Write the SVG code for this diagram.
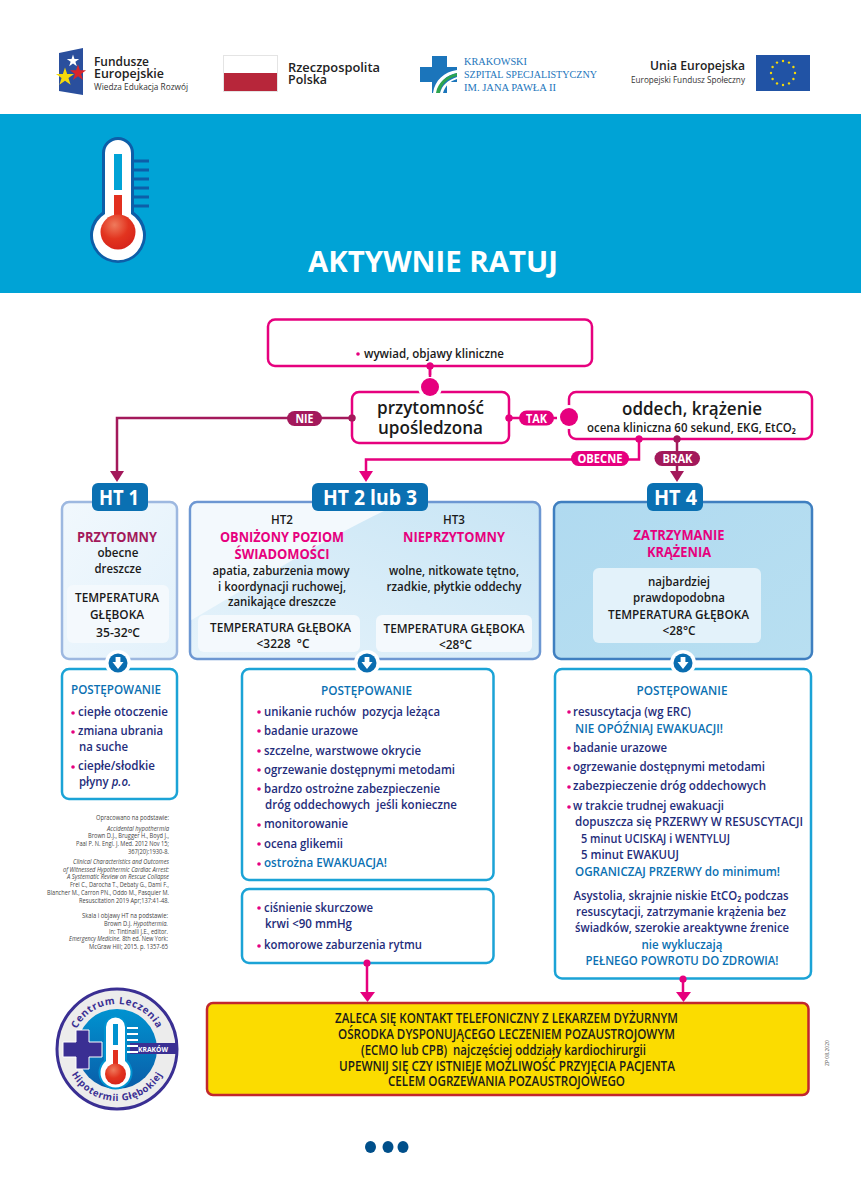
<svg xmlns="http://www.w3.org/2000/svg" width="861" height="1200" viewBox="0 0 861 1200">
<style>
text{font-family:"Open Sans","Liberation Sans",sans-serif}
.c{text-anchor:middle}
.r{text-anchor:end}
.pk{fill:none;stroke:#e6007e;stroke-width:2.5}
.cy{fill:#fff;stroke:#1ba3d6;stroke-width:2.5}
.k{fill:#1a1a1a;font-weight:600;font-size:12px}
.big{fill:#1a1a1a;font-weight:600;font-size:18px}
.cap{fill:#fff;font-weight:700;font-size:12px}
.ht{fill:#fff;font-weight:700;font-size:22px}
.htb{fill:#0a70b2}
.pkh{fill:#e6007e;font-weight:700;font-size:14px}
.mar{fill:#a3195b;font-weight:700;font-size:14px}
.post{fill:#0a70b2;font-weight:600;font-size:13px}
.it{fill:#1f2d7b;font-weight:600;font-size:13px}
.bl{fill:#0a70b2;font-weight:600;font-size:13px}
.dot{fill:#e6007e}
.halo{fill:#fff}
.ref{fill:#444;font-size:6.5px}
.y{fill:#1a1a1a;font-weight:600;font-size:13.5px}
.panel{fill:#f4f9fd}
.ln{fill:none;stroke:#e6007e;stroke-width:2.5}
.lm{fill:none;stroke:#a3195b;stroke-width:2.5}
.pm{fill:#a3195b}
.pp{fill:#e6007e}
.lg{font-weight:600;fill:#222;font-size:12.5px}
.lgs{fill:#333;font-size:9px}
.ksz{fill:#1b75bb;font-size:10.5px;font-family:"Liberation Serif",serif}
</style>
<defs>
<polygon id="star" points="0,-1 .225,-.309 .951,-.309 .363,.118 .588,.809 0,.382 -.588,.809 -.363,.118 -.951,-.309 -.225,-.309"/>
<linearGradient id="g1" x1="0" y1="0" x2="1" y2="1"><stop offset="0" stop-color="#f1f8fd"/><stop offset="1" stop-color="#e2f1fb"/></linearGradient>
<linearGradient id="g2" x1="0" y1="1" x2="1" y2="0"><stop offset="0" stop-color="#e6f3fb"/><stop offset="1" stop-color="#c8e5f5"/></linearGradient>
<linearGradient id="g3" x1="0" y1="0" x2="1" y2="1"><stop offset="0" stop-color="#b0daf0"/><stop offset="1" stop-color="#b8dff1"/></linearGradient>
<radialGradient id="ball" cx=".4" cy=".3" r=".8"><stop offset="0" stop-color="#ef7a5c"/><stop offset=".5" stop-color="#e2341f"/><stop offset="1" stop-color="#d4201a"/></radialGradient>
<linearGradient id="disc" x1="0" y1="0" x2="0" y2="1"><stop offset="0" stop-color="#0093d0"/><stop offset="1" stop-color="#0a5da8"/></linearGradient>
<g id="down"><circle r="13" fill="#fff"/><circle r="9.5" fill="#0a6db0"/><path d="M-2.4,-6H2.4V-1H5.5L0,6L-5.5,-1H-2.4Z" fill="#fff"/></g>
<path id="arcTop" d="M 72 1049 A 45 45 0 0 1 162 1049"/>
<path id="arcBot" d="M 65 1049 A 52 52 0 0 0 169 1049"/>
</defs>

<rect width="861" height="1200" fill="#fff"/>

<g id="logos">
<g id="logo-fe">
<polygon points="59,53 83,48 83,95 59,91" fill="#2a4f9d"/>
<use href="#star" transform="translate(73,61) scale(6.500)" fill="#fff"/>
<use href="#star" transform="translate(65,77) scale(9.500)" fill="#f5d90a"/>
<use href="#star" transform="translate(78,73) scale(8.500)" fill="#d9252a"/>
<text class="lg" x="94" y="65.500" textLength="55" lengthAdjust="spacingAndGlyphs">Fundusze</text>
<text class="lg" x="94" y="77.500" textLength="70" lengthAdjust="spacingAndGlyphs">Europejskie</text>
<text class="lgs" x="94" y="90" textLength="94" lengthAdjust="spacingAndGlyphs">Wiedza Edukacja Rozwój</text>
</g>
<g id="logo-pl">
<rect x="223.500" y="55.500" width="54" height="36" fill="#fff" stroke="#e4e4e4"/>
<rect x="224" y="73" width="53" height="18" fill="#b7263a"/>
<text class="lg" x="288" y="72" textLength="92" lengthAdjust="spacingAndGlyphs">Rzeczpospolita</text>
<text class="lg" x="288" y="84" textLength="39" lengthAdjust="spacingAndGlyphs">Polska</text>
</g>
<g id="logo-ksz">
<path d="M432,56H447V67H457V82H447V93H432V82H420V67H432Z" fill="#1b75bb"/>
<path d="M433,93C435,80 444,72 457,70V73C446,75 439,82 437,93Z" fill="#fff"/>
<path d="M436,93C438,82 446,76 457,73V76C448,78 441,84 440,93Z" fill="#2ea44f"/>
<path d="M440,93C442,85 448,80 457,77V79C450,81 445,86 443,93Z" fill="#fff"/>
<text class="ksz" x="464" y="65" textLength="63" lengthAdjust="spacingAndGlyphs">KRAKOWSKI</text>
<text class="ksz" x="464" y="78" textLength="133" lengthAdjust="spacingAndGlyphs">SZPITAL SPECJALISTYCZNY</text>
<text class="ksz" x="464" y="91" textLength="92" lengthAdjust="spacingAndGlyphs">IM. JANA PAWŁA II</text>
</g>
<g id="logo-ue">
<text class="lg r" x="745" y="70" textLength="95" lengthAdjust="spacingAndGlyphs">Unia Europejska</text>
<text class="lgs r" x="745" y="83" textLength="114" lengthAdjust="spacingAndGlyphs">Europejski Fundusz Społeczny</text>
<rect x="756" y="55" width="54" height="36" fill="#2153a5"/>
<g fill="#f5d90a">
<circle cx="783" cy="61" r="1.200"/><circle cx="789" cy="62.600" r="1.200"/><circle cx="793.400" cy="67" r="1.200"/><circle cx="795" cy="73" r="1.200"/><circle cx="793.400" cy="79" r="1.200"/><circle cx="789" cy="83.400" r="1.200"/><circle cx="783" cy="85" r="1.200"/><circle cx="777" cy="83.400" r="1.200"/><circle cx="772.600" cy="79" r="1.200"/><circle cx="771" cy="73" r="1.200"/><circle cx="772.600" cy="67" r="1.200"/><circle cx="777" cy="62.600" r="1.200"/>
</g>
</g>
</g>

<g id="banner">
<rect y="114" width="861" height="179" fill="#00a3d6"/>
<g id="thermometer">
<g fill="#0d5ea8"><rect x="134" y="159.500" width="15" height="3"/><rect x="134" y="168.500" width="15" height="3"/><rect x="134" y="177.500" width="15" height="3"/><rect x="134" y="186.500" width="15" height="3"/><rect x="134" y="195.500" width="15" height="3"/><rect x="134" y="204.500" width="15" height="3"/></g>
<path d="M102,153A16,16 0 0 1 134,153V212A28,28 0 1 1 102,212Z" fill="#0d5ea8"/>
<path d="M105,153A13,13 0 0 1 131,153V214A25,25 0 1 1 105,214Z" fill="#fff"/>
<rect x="114" y="154" width="8" height="36" fill="#00a3d6"/>
<rect x="114" y="195" width="8" height="30" fill="#e2301f"/>
<circle cx="118" cy="232" r="17.500" fill="url(#ball)"/>
</g>
<text class="c" x="433" y="272" font-size="29" font-weight="700" fill="#fff" textLength="250" lengthAdjust="spacingAndGlyphs">AKTYWNIE RATUJ</text>
</g>

<g id="connectors">
<path class="ln" d="M430,366V380"/>
<circle class="dot" cx="430" cy="366" r="3.500"/>
<path class="lm" d="M352,418H117V473"/>
<polygon class="pm" points="110,471 124,471 117,482"/>
<circle class="pm" cx="352" cy="418" r="3.500"/>
<path class="ln" d="M509,418H557"/>
<circle class="dot" cx="509" cy="418" r="3.500"/>
<path class="ln" d="M639,439V459.500H366V473"/>
<polygon class="pp" points="359,471 373,471 366,482"/>
<circle class="dot" cx="639" cy="439" r="3.500"/>
<path class="lm" d="M677,439V473"/>
<polygon class="pm" points="670,471 684,471 677,482"/>
<circle class="pm" cx="677" cy="439" r="3.500"/>
<path class="ln" d="M367,963V994"/>
<polygon class="pp" points="360,992 375,992 367.500,1002"/>
<circle class="dot" cx="367" cy="963" r="3.500"/>
<path class="ln" d="M683,979V994"/>
<polygon class="pp" points="676,992 691,992 683.500,1002"/>
<circle class="dot" cx="683" cy="979" r="3.500"/>
</g>

<g id="n-wywiad">
<rect class="pk" x="268" y="319.500" width="324" height="46.500" rx="7"/>
<circle class="dot" cx="430" cy="366" r="3.500"/>
<circle class="dot" cx="358" cy="354" r="1.800"/>
<text class="k" x="364" y="358" textLength="140" lengthAdjust="spacingAndGlyphs">wywiad, objawy kliniczne</text>
</g>
<g id="n-przytomnosc">
<rect class="pk" x="352" y="392" width="157" height="51" rx="7"/>
<circle class="halo" cx="430" cy="387" r="12"/>
<circle class="dot" cx="430" cy="387" r="9"/>
<path class="ln" d="M430,366V377"/>
<circle class="pm" cx="352" cy="418" r="3.500"/>
<circle class="dot" cx="509" cy="418" r="3.500"/>
<text class="big c" x="430.500" y="414" textLength="107" lengthAdjust="spacingAndGlyphs">przytomność</text>
<text class="big c" x="430.500" y="434" textLength="105" lengthAdjust="spacingAndGlyphs">upośledzona</text>
</g>
<g id="n-oddech">
<rect class="pk" x="569" y="392" width="243" height="47" rx="7"/>
<circle class="halo" cx="569" cy="417" r="12"/>
<circle class="dot" cx="569" cy="417" r="9"/>
<circle class="dot" cx="639" cy="439" r="3.500"/>
<circle class="pm" cx="677" cy="439" r="3.500"/>
<text class="big c" x="692" y="415" textLength="140" lengthAdjust="spacingAndGlyphs">oddech, krążenie</text>
<text class="k" x="587" y="431.500" textLength="209" lengthAdjust="spacingAndGlyphs">ocena kliniczna 60 sekund, EKG, EtCO₂</text>
</g>
<g id="l-nie"><rect class="pm" x="287" y="411" width="35" height="15" rx="7.500"/><text class="cap c" x="304.500" y="423" textLength="18" lengthAdjust="spacingAndGlyphs">NIE</text></g>
<g id="l-tak"><rect class="pp" x="519" y="410.500" width="35" height="15" rx="7.500"/><text class="cap c" x="536.500" y="422.500" textLength="21" lengthAdjust="spacingAndGlyphs">TAK</text></g>
<g id="l-obecne"><rect class="pp" x="571" y="451" width="58" height="15" rx="7.500"/><text class="cap c" x="600" y="463" textLength="45" lengthAdjust="spacingAndGlyphs">OBECNE</text></g>
<g id="l-brak"><rect class="pm" x="654.500" y="451" width="45.500" height="15" rx="7.500"/><text class="cap c" x="677.500" y="463" textLength="30" lengthAdjust="spacingAndGlyphs">BRAK</text></g>

<g id="n-ht1">
<rect x="62" y="502" width="115" height="157" rx="7" fill="url(#g1)" stroke="#9db8e0" stroke-width="2.500"/>
<rect class="htb" x="92" y="483" width="56" height="28" rx="6"/>
<text class="ht c" x="119" y="505" textLength="40" lengthAdjust="spacingAndGlyphs">HT 1</text>
<text class="mar c" x="117" y="542" textLength="80" lengthAdjust="spacingAndGlyphs">PRZYTOMNY</text>
<text class="k c" x="118" y="557" textLength="41" lengthAdjust="spacingAndGlyphs">obecne</text>
<text class="k c" x="118" y="573" textLength="47" lengthAdjust="spacingAndGlyphs">dreszcze</text>
<rect class="panel" x="67" y="585" width="102" height="58" rx="6"/>
<text class="k c" x="117" y="602" textLength="84" lengthAdjust="spacingAndGlyphs">TEMPERATURA</text>
<text class="k c" x="117" y="619" textLength="54" lengthAdjust="spacingAndGlyphs">GŁĘBOKA</text>
<text class="k c" x="118" y="637" textLength="44" lengthAdjust="spacingAndGlyphs">35-32ºC</text>
</g>
<g id="n-ht23">
<rect x="190" y="502" width="350" height="157" rx="7" fill="url(#g2)" stroke="#6d97d2" stroke-width="2.500"/>
<path d="M191.500,620C260,580 330,535 400,503.500H197A6,6 0 0 0 191.500,509Z" fill="#f3f9fd"/>
<rect class="htb" x="312" y="483" width="116" height="28" rx="6"/>
<text class="ht c" x="370" y="505" textLength="94" lengthAdjust="spacingAndGlyphs">HT 2 lub 3</text>
<text class="k c" x="282" y="524" textLength="22" lengthAdjust="spacingAndGlyphs">HT2</text>
<text class="pkh c" x="282" y="542" textLength="124" lengthAdjust="spacingAndGlyphs">OBNIŻONY POZIOM</text>
<text class="pkh c" x="282" y="559" textLength="95" lengthAdjust="spacingAndGlyphs">ŚWIADOMOŚCI</text>
<text class="k c" x="281" y="575" textLength="137" lengthAdjust="spacingAndGlyphs">apatia, zaburzenia mowy</text>
<text class="k c" x="282" y="591" textLength="128" lengthAdjust="spacingAndGlyphs">i koordynacji ruchowej,</text>
<text class="k c" x="282" y="606" textLength="108" lengthAdjust="spacingAndGlyphs">zanikające dreszcze</text>
<rect class="panel" x="198" y="615" width="162" height="37" rx="6"/>
<text class="k c" x="280.500" y="632" textLength="141" lengthAdjust="spacingAndGlyphs">TEMPERATURA GŁĘBOKA</text>
<text class="k c" x="283" y="648" textLength="53" lengthAdjust="spacingAndGlyphs" xml:space="preserve">&lt;3228  °C</text>
<text class="k c" x="454" y="524" textLength="22" lengthAdjust="spacingAndGlyphs">HT3</text>
<text class="pkh c" x="454" y="542" textLength="102" lengthAdjust="spacingAndGlyphs">NIEPRZYTOMNY</text>
<text class="k c" x="454" y="575" textLength="130" lengthAdjust="spacingAndGlyphs">wolne, nitkowate tętno,</text>
<text class="k c" x="454" y="591" textLength="135" lengthAdjust="spacingAndGlyphs">rzadkie, płytkie oddechy</text>
<rect class="panel" x="376" y="615" width="156" height="37" rx="6"/>
<text class="k c" x="454" y="633" textLength="141" lengthAdjust="spacingAndGlyphs">TEMPERATURA GŁĘBOKA</text>
<text class="k c" x="455.500" y="649" textLength="33" lengthAdjust="spacingAndGlyphs">&lt;28°C</text>
</g>
<g id="n-ht4">
<rect x="554" y="502" width="258" height="157" rx="7" fill="url(#g3)" stroke="#3f7fc0" stroke-width="2.500"/>
<rect class="htb" x="647" y="483" width="56" height="28" rx="6"/>
<text class="ht c" x="675.500" y="505" textLength="43" lengthAdjust="spacingAndGlyphs">HT 4</text>
<text class="pkh c" x="679" y="540" textLength="91" lengthAdjust="spacingAndGlyphs">ZATRZYMANIE</text>
<text class="pkh c" x="679" y="557" textLength="64" lengthAdjust="spacingAndGlyphs">KRĄŻENIA</text>
<rect x="593" y="568" width="168" height="75" rx="6" fill="#e3f2fa"/>
<text class="k c" x="679" y="586" textLength="62" lengthAdjust="spacingAndGlyphs">najbardziej</text>
<text class="k c" x="679" y="602" textLength="92" lengthAdjust="spacingAndGlyphs">prawdopodobna</text>
<text class="k c" x="678.500" y="619" textLength="141" lengthAdjust="spacingAndGlyphs">TEMPERATURA GŁĘBOKA</text>
<text class="k c" x="679" y="635" textLength="33" lengthAdjust="spacingAndGlyphs">&lt;28°C</text>
</g>

<g id="n-post1">
<rect class="cy" x="62" y="669" width="115" height="130" rx="7"/>
<text class="post" x="71" y="694" textLength="90" lengthAdjust="spacingAndGlyphs">POSTĘPOWANIE</text>
<circle class="dot" cx="73" cy="713" r="1.800"/><text class="it" x="78" y="716" textLength="90" lengthAdjust="spacingAndGlyphs">ciepłe otoczenie</text>
<circle class="dot" cx="73" cy="732" r="1.800"/><text class="it" x="78" y="735" textLength="85" lengthAdjust="spacingAndGlyphs">zmiana ubrania</text>
<text class="it" x="79" y="751" textLength="49" lengthAdjust="spacingAndGlyphs">na suche</text>
<circle class="dot" cx="73" cy="767" r="1.800"/><text class="it" x="78" y="770" textLength="77" lengthAdjust="spacingAndGlyphs">ciepłe/słodkie</text>
<text class="it" x="79" y="786" textLength="52" lengthAdjust="spacingAndGlyphs">płyny <tspan font-style="italic">p.o.</tspan></text>
</g>
<g id="n-post2">
<rect class="cy" x="242" y="669" width="251.500" height="211" rx="7"/>
<text class="post c" x="366.500" y="695" textLength="91" lengthAdjust="spacingAndGlyphs">POSTĘPOWANIE</text>
<circle class="dot" cx="259" cy="712" r="1.800"/><text class="it" x="264" y="716" textLength="176" lengthAdjust="spacingAndGlyphs" xml:space="preserve">unikanie ruchów  pozycja leżąca</text>
<circle class="dot" cx="259" cy="731" r="1.800"/><text class="it" x="264" y="735" textLength="94" lengthAdjust="spacingAndGlyphs">badanie urazowe</text>
<circle class="dot" cx="259" cy="751" r="1.800"/><text class="it" x="264" y="755" textLength="157" lengthAdjust="spacingAndGlyphs">szczelne, warstwowe okrycie</text>
<circle class="dot" cx="259" cy="770" r="1.800"/><text class="it" x="264" y="774" textLength="191" lengthAdjust="spacingAndGlyphs">ogrzewanie dostępnymi metodami</text>
<circle class="dot" cx="259" cy="789" r="1.800"/><text class="it" x="264" y="793" textLength="176" lengthAdjust="spacingAndGlyphs">bardzo ostrożne zabezpieczenie</text>
<text class="it" x="265" y="809" textLength="192" lengthAdjust="spacingAndGlyphs" xml:space="preserve">dróg oddechowych  jeśli konieczne</text>
<circle class="dot" cx="259" cy="825" r="1.800"/><text class="it" x="264" y="828" textLength="84" lengthAdjust="spacingAndGlyphs">monitorowanie</text>
<circle class="dot" cx="259" cy="844" r="1.800"/><text class="it" x="264" y="848" textLength="79" lengthAdjust="spacingAndGlyphs">ocena glikemii</text>
<circle class="dot" cx="259" cy="864" r="1.800"/><text class="bl" x="264" y="867" textLength="123" lengthAdjust="spacingAndGlyphs">ostrożna EWAKUACJA!</text>
</g>
<g id="n-kryteria">
<rect class="cy" x="242" y="889" width="251.500" height="74" rx="7"/>
<circle class="dot" cx="367" cy="963" r="3.500"/>
<circle class="dot" cx="259" cy="908" r="1.800"/><text class="it" x="264" y="912" textLength="109" lengthAdjust="spacingAndGlyphs">ciśnienie skurczowe</text>
<text class="it" x="265" y="928" textLength="87" lengthAdjust="spacingAndGlyphs">krwi &lt;90 mmHg</text>
<circle class="dot" cx="259" cy="946" r="1.800"/><text class="it" x="264" y="949" textLength="158" lengthAdjust="spacingAndGlyphs">komorowe zaburzenia rytmu</text>
</g>
<g id="n-post4">
<rect class="cy" x="555" y="669" width="256" height="309.500" rx="7"/>
<circle class="dot" cx="683" cy="979" r="3.500"/>
<text class="post c" x="682" y="695" textLength="91" lengthAdjust="spacingAndGlyphs">POSTĘPOWANIE</text>
<circle class="dot" cx="569" cy="712" r="1.800"/><text class="it" x="573" y="716" textLength="118" lengthAdjust="spacingAndGlyphs">resuscytacja (wg ERC)</text>
<text class="bl" x="575" y="733" textLength="148" lengthAdjust="spacingAndGlyphs">NIE OPÓŹNIAJ EWAKUACJI!</text>
<circle class="dot" cx="569" cy="748" r="1.800"/><text class="it" x="573" y="752" textLength="94" lengthAdjust="spacingAndGlyphs">badanie urazowe</text>
<circle class="dot" cx="569" cy="768" r="1.800"/><text class="it" x="573" y="771" textLength="192" lengthAdjust="spacingAndGlyphs">ogrzewanie dostępnymi metodami</text>
<circle class="dot" cx="569" cy="787" r="1.800"/><text class="it" x="573" y="790" textLength="193" lengthAdjust="spacingAndGlyphs">zabezpieczenie dróg oddechowych</text>
<circle class="dot" cx="569" cy="807" r="1.800"/><text class="it" x="573" y="810" textLength="151" lengthAdjust="spacingAndGlyphs">w trakcie trudnej ewakuacji</text>
<text class="it" x="575" y="826" textLength="228" lengthAdjust="spacingAndGlyphs">dopuszcza się PRZERWY W RESUSCYTACJI</text>
<text class="it" x="581" y="843" textLength="149" lengthAdjust="spacingAndGlyphs">5 minut UCISKAJ i WENTYLUJ</text>
<text class="it" x="581" y="859" textLength="98" lengthAdjust="spacingAndGlyphs">5 minut EWAKUUJ</text>
<text class="bl" x="575" y="876" textLength="205" lengthAdjust="spacingAndGlyphs">OGRANICZAJ PRZERWY do minimum!</text>
<text class="it c" x="681" y="900" textLength="215" lengthAdjust="spacingAndGlyphs">Asystolia, skrajnie niskie EtCO₂ podczas</text>
<text class="it c" x="681" y="916" textLength="210" lengthAdjust="spacingAndGlyphs">resuscytacji, zatrzymanie krążenia bez</text>
<text class="it c" x="682" y="932" textLength="214" lengthAdjust="spacingAndGlyphs">świadków, szerokie areaktywne źrenice</text>
<text class="bl c" x="682" y="949" textLength="81" lengthAdjust="spacingAndGlyphs">nie wykluczają</text>
<text class="bl c" x="682" y="965" textLength="193" lengthAdjust="spacingAndGlyphs">PEŁNEGO POWROTU DO ZDROWIA!</text>
</g>

<g id="arrows-down">
<use href="#down" x="118" y="663"/>
<use href="#down" x="367" y="663"/>
<use href="#down" x="683" y="663"/>
</g>

<g id="n-ecmo">
<rect x="207" y="1003" width="601.500" height="92" rx="6" fill="#fbdc00" stroke="#c1272d" stroke-width="2.500"/>
<text class="y c" x="506.500" y="1023" textLength="343" lengthAdjust="spacingAndGlyphs">ZALECA SIĘ KONTAKT TELEFONICZNY Z LEKARZEM DYŻURNYM</text>
<text class="y c" x="506.500" y="1039" textLength="337" lengthAdjust="spacingAndGlyphs">OŚRODKA DYSPONUJĄCEGO LECZENIEM POZAUSTROJOWYM</text>
<text class="y c" x="503.500" y="1055" textLength="285" lengthAdjust="spacingAndGlyphs" xml:space="preserve">(ECMO lub CPB)  najczęściej oddziały kardiochirurgii</text>
<text class="y c" x="507" y="1071" textLength="336" lengthAdjust="spacingAndGlyphs">UPEWNIJ SIĘ CZY ISTNIEJE MOŻLIWOŚĆ PRZYJĘCIA PACJENTA</text>
<text class="y c" x="506.500" y="1086" textLength="237" lengthAdjust="spacingAndGlyphs">CELEM OGRZEWANIA POZAUSTROJOWEGO</text>
</g>

<g id="refs">
<text class="ref r" x="169" y="820" textLength="73" lengthAdjust="spacingAndGlyphs">Opracowano na podstawie:</text>
<text class="ref r" x="169" y="831" textLength="62" lengthAdjust="spacingAndGlyphs" font-style="italic">Accidental hypothermia</text>
<text class="ref r" x="169" y="838" textLength="81" lengthAdjust="spacingAndGlyphs">Brown D.J., Brugger H., Boyd J.,</text>
<text class="ref r" x="169" y="846" textLength="93" lengthAdjust="spacingAndGlyphs">Paal P. N. Engl. J. Med. 2012 Nov 15;</text>
<text class="ref r" x="169" y="854" textLength="41" lengthAdjust="spacingAndGlyphs">367(20):1930-8.</text>
<text class="ref r" x="169" y="864" textLength="96" lengthAdjust="spacingAndGlyphs" font-style="italic">Clinical Characteristics and Outcomes</text>
<text class="ref r" x="169" y="872" textLength="106" lengthAdjust="spacingAndGlyphs" font-style="italic">of Witnessed Hypothermic Cardiac Arrest:</text>
<text class="ref r" x="169" y="879" textLength="102" lengthAdjust="spacingAndGlyphs" font-style="italic">A Systematic Review on Rescue Collapse</text>
<text class="ref r" x="169" y="887" textLength="99" lengthAdjust="spacingAndGlyphs">Frei C., Darocha T., Debaty G., Dami F.,</text>
<text class="ref r" x="169" y="895" textLength="122" lengthAdjust="spacingAndGlyphs">Blancher M., Carron PN., Oddo M., Pasquier M.</text>
<text class="ref r" x="169" y="903" textLength="90" lengthAdjust="spacingAndGlyphs">Resuscitation 2019 Apr;137:41-48.</text>
<text class="ref r" x="168" y="918" textLength="86" lengthAdjust="spacingAndGlyphs">Skala i objawy HT na podstawie:</text>
<text class="ref r" x="168" y="926" textLength="64" lengthAdjust="spacingAndGlyphs">Brown D.J. <tspan font-style="italic">Hypothermia.</tspan></text>
<text class="ref r" x="168" y="934" textLength="59" lengthAdjust="spacingAndGlyphs">In: Tintinalli J.E., editor.</text>
<text class="ref r" x="168" y="941" textLength="99" lengthAdjust="spacingAndGlyphs"><tspan font-style="italic">Emergency Medicine.</tspan> 8th ed. New York:</text>
<text class="ref r" x="168" y="949" textLength="79" lengthAdjust="spacingAndGlyphs">McGraw Hill; 2015. p. 1357-65</text>
</g>

<g id="logo-centrum">
<circle cx="117" cy="1049" r="60" fill="#ececec" stroke="#3a2f93" stroke-width="3"/>
<circle cx="117" cy="1049" r="40" fill="url(#disc)"/>
<path d="M76,1030V1042H63V1057H76V1069H89V1057H102V1042H89V1030Z" fill="#3a2f93" stroke="#fff" stroke-width="1"/>
<rect x="130" y="1043" width="46" height="11" fill="#3a2f93"/>
<g fill="#fff"><rect x="126" y="1027" width="12" height="2"/><rect x="126" y="1033" width="12" height="2"/><rect x="126" y="1039" width="12" height="2"/><rect x="126" y="1045" width="12" height="2"/><rect x="126" y="1051" width="12" height="2"/></g>
<path d="M104,1027A11,11 0 0 1 127,1027V1060A17,17 0 1 1 104,1060Z" fill="#0093d0"/>
<path d="M106,1027A9.500,9.500 0 0 1 125,1027V1061A15,15 0 1 1 106,1061Z" fill="#fff"/>
<rect x="113" y="1024" width="5" height="21" fill="#0093d0"/>
<rect x="113" y="1050" width="5" height="14" fill="#e2301f"/>
<circle cx="115.500" cy="1074" r="10.500" fill="url(#ball)"/>
<text class="c" x="153" y="1052" font-size="7" font-weight="700" fill="#fff" textLength="30" lengthAdjust="spacingAndGlyphs">KRAKÓW</text>
<text font-size="10" font-weight="700" fill="#3a2f93" letter-spacing="0.6"><textPath href="#arcTop" startOffset="50%" text-anchor="middle">Centrum Leczenia</textPath></text>
<text font-size="9.500" font-weight="700" fill="#3a2f93" letter-spacing="0.6"><textPath href="#arcBot" startOffset="50%" text-anchor="middle">Hipotermii Głębokiej</textPath></text>
</g>

<text transform="translate(829,1066) rotate(-90)" font-size="5.500" fill="#555" textLength="26" lengthAdjust="spacingAndGlyphs">ZP 08.2020</text>

<g id="pager" fill="#004f8a">
<ellipse cx="370.500" cy="1147" rx="5.500" ry="6"/>
<ellipse cx="388" cy="1147" rx="5.500" ry="6"/>
<ellipse cx="403" cy="1147" rx="5.500" ry="6"/>
</g>
</svg>
